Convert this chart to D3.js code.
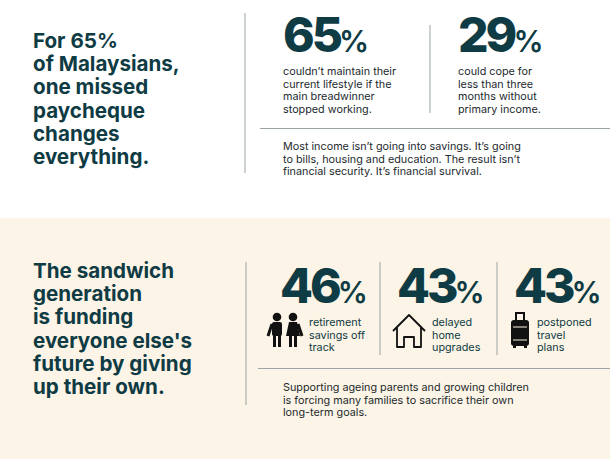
<!DOCTYPE html>
<html><head><meta charset="utf-8">
<script src="https://cdn.jsdelivr.net/npm/d3@7"></script>
<style>
body{margin:0;background:#fff}
text{font-family:Inter,"Noto Sans",sans-serif}
</style></head>
<body><div id="container"></div>
<script>
const heading1 = ['For 65%','of Malaysians,','one missed','paycheque','changes','everything.']
const stats1 = [65, 29]
const labels1 = [
  ['couldn\u2019t maintain their','current lifestyle if the','main breadwinner','stopped working.'],
  ['could cope for','less than three','months without','primary income.']
]
const note1 = ['Most income isn\u2019t going into savings. It\u2019s going','to bills, housing and education. The result isn\u2019t','financial security. It\u2019s financial survival.']

const heading2 = ['The sandwich','generation','is funding','everyone else\'s','future by giving','up their own.']
const stats2 = [46, 43, 43]
const labels2 = [['retirement','savings off','track'],['delayed','home','upgrades'],['postponed','travel','plans']]
const note2 = ['Supporting ageing parents and growing children','is forcing many families to sacrifice their own','long-term goals.']

const ink = '#0f3b44', rule = '#9aa3a6'
const W = 610, H = 459
const svg = d3.select('#container').append('svg').attr('width', W).attr('height', H)

svg.append('rect').attr('x',0).attr('y',218).attr('width',W).attr('height',H-218).attr('fill','#fcf4e6')

function lines(x, y0, step, arr, size, weight, color){
  let t = svg.append('text').attr('x',x).attr('y',y0).attr('fill',color)
    .attr('font-size',size).attr('font-weight',weight)
  arr.forEach((s,i) => t.append('tspan').attr('x',x).attr('y',y0+i*step).text(s))
}
function vline(x,y1,y2){ svg.append('line').attr('x1',x).attr('x2',x).attr('y1',y1).attr('y2',y2).attr('stroke',rule).attr('stroke-width',1) }
function hline(y,x1,x2){ svg.append('line').attr('x1',x1).attr('x2',x2).attr('y1',y).attr('y2',y).attr('stroke',rule).attr('stroke-width',1) }
function bigNum(x,y,v){
  let t = svg.append('text').attr('x',x).attr('y',y).attr('fill',ink).attr('font-weight',800).attr('letter-spacing',-3)
  t.append('tspan').attr('font-size',48).text(v)
  t.append('tspan').attr('font-size',30).attr('font-weight',600).attr('dx',-1).attr('letter-spacing',-1).text('%')
}

// top section
lines(33, 48, 23.2, heading1, 20.6, 700, ink)
vline(245, 13, 173)
const x1 = d3.scalePoint().domain(d3.range(stats1.length)).range([283, 458])
stats1.forEach((v,i) => {
  bigNum(x1(i), 52, v)
  lines(x1(i), 75, 12.6, labels1[i], 10.8, 400, '#1d2a2e')
})
vline(430, 25, 113)
hline(128.5, 260, 610)
lines(283, 150, 12.6, note1, 10.8, 400, '#1d2a2e')

// bottom section
lines(33, 278, 23.2, heading2, 20.6, 700, ink)
vline(246, 262, 405)
const x2 = d3.scalePoint().domain(d3.range(stats2.length)).range([280, 514])
const txtX = [309, 432, 537]
stats2.forEach((v,i) => {
  bigNum(x2(i), 303, v)
  lines(txtX[i], 326, 12.6, labels2[i], 10.8, 400, ink)
})
vline(380, 262, 355); vline(497, 262, 355)
hline(368.5, 258, 610)
lines(283, 391, 12.6, note2, 10.8, 400, '#1d2a2e')

// icons
const ic = svg.append('g').attr('fill','#111')
// two kids
;[[277,0],[293,1]].forEach(([cx,girl]) => {
  ic.append('circle').attr('cx',cx).attr('cy',317).attr('r',4.3)
  if(girl) ic.append('path').attr('d',`M${cx-4},322 L${cx+4},322 L${cx+7},336 L${cx-7},336Z`)
  else ic.append('rect').attr('x',cx-5).attr('y',322).attr('width',10).attr('height',14).attr('rx',2)
  ic.append('rect').attr('x',cx-4).attr('y',335).attr('width',3).attr('height',12)
  ic.append('rect').attr('x',cx+1).attr('y',335).attr('width',3).attr('height',12)
})
ic.append('path').attr('d','M272,324 L268,336 M298,324 L302,336').attr('stroke','#111').attr('stroke-width',3)
// house
svg.append('path').attr('d','M393,331 L409,315 L425,331 M397,327 L397,347 L404,347 L404,337 L414,337 L414,347 L421,347 L421,327')
  .attr('fill','none').attr('stroke','#111').attr('stroke-width',1.8).attr('stroke-linejoin','round')
// suitcase
svg.append('path').attr('d','M516,320 L516,313 L524,313 L524,320').attr('fill','none').attr('stroke','#111').attr('stroke-width',2)
ic.append('rect').attr('x',511).attr('y',320).attr('width',18).attr('height',26).attr('rx',3)
svg.append('line').attr('x1',513).attr('x2',527).attr('y1',327).attr('y2',327).attr('stroke','#fcf4e6').attr('stroke-width',1)
svg.append('line').attr('x1',513).attr('x2',527).attr('y1',340).attr('y2',340).attr('stroke','#fcf4e6').attr('stroke-width',1)
ic.append('rect').attr('x',513).attr('y',346).attr('width',3).attr('height',2)
ic.append('rect').attr('x',524).attr('y',346).attr('width',3).attr('height',2)
</script></body></html>
